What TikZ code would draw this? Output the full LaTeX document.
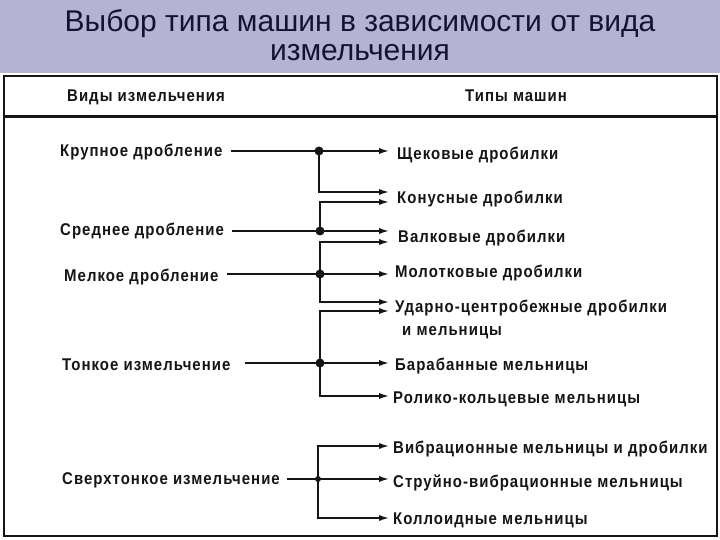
\documentclass[tikz,border=0pt]{standalone}
\usepackage{fontspec}
\setmainfont{Liberation Sans}
\newfontfamily\lblfont{Liberation Sans}[FakeStretch=0.88, LetterSpace=6]
\usetikzlibrary{arrows.meta}
\definecolor{bandbg}{HTML}{B4B4D2}
\definecolor{titlecol}{HTML}{141432}
\definecolor{ink}{HTML}{151515}
\begin{document}
\begin{tikzpicture}[x=1pt,y=-1pt,
  titletxt/.style={anchor=base, inner sep=0pt, text=titlecol, font=\fontsize{30}{34}\selectfont},
  lbl/.style={anchor=base west, inner sep=0pt, text=ink, font=\lblfont\fontsize{17}{19}\selectfont\bfseries},
  feed/.style={draw=ink, line width=2.2pt},
  trunk/.style={draw=ink, line width=2.8pt},
  arr/.style={draw=ink, line width=2.6pt, -{Latex[length=12pt,width=6pt]}},
  dotc/.style={circle, fill=ink, inner sep=0pt, minimum size=9pt},
  frame/.style={draw=ink, line width=2.5pt}
]
\useasboundingbox (0,0) rectangle (720,540);
\fill[bandbg] (0,0) rectangle (720,73);
\fill[white] (0,73) rectangle (720,540);
% title
\node[titletxt] (t1) at (360,32) {Выбор типа машин в зависимости от вида};
\node[titletxt] (t2) at (360,61) {измельчения};
% frame
\draw[frame] (4,76) rectangle (717,536);
\draw[frame, line width=3pt] (4,117) -- (717,117);
% headers
\node[lbl] (h1) at (67,102) {Виды измельчения};
\node[lbl] (h2) at (465,102) {Типы машин};
% left labels
\node[lbl] (k1) at (60,157) {Крупное дробление};
\node[lbl] (k2) at (60,236) {Среднее дробление};
\node[lbl] (k3) at (64,281) {Мелкое дробление};
\node[lbl] (k4) at (62,370) {Тонкое измельчение};
\node[lbl] (k5) at (62,484) {Сверхтонкое измельчение};
% right labels
\node[lbl] (m1) at (397,160) {Щековые дробилки};
\node[lbl] (m2) at (397,204) {Конусные дробилки};
\node[lbl] (m3) at (398,242) {Валковые дробилки};
\node[lbl] (m4) at (395,277) {Молотковые дробилки};
\node[lbl] (m5) at (395,312) {Ударно-центробежные дробилки};
\node[lbl] (m5b) at (402,335) {и мельницы};
\node[lbl] (m6) at (395,370) {Барабанные мельницы};
\node[lbl] (m7) at (393,403) {Ролико-кольцевые мельницы};
\node[lbl] (m8) at (393,453) {Вибрационные мельницы и дробилки};
\node[lbl] (m9) at (393,487) {Струйно-вибрационные мельницы};
\node[lbl] (m10) at (393,524) {Коллоидные мельницы};
% junctions and branch corners
\coordinate (j1) at (319,151);
\coordinate (c1b) at (319,192);
\coordinate (c2a) at (320,202);
\coordinate (j2) at (320,231);
\coordinate (c3a) at (320,242);
\coordinate (j3) at (320,274);
\coordinate (c3b) at (320,302);
\coordinate (c4a) at (320,311);
\coordinate (j4) at (320,363);
\coordinate (c4b) at (320,396);
\coordinate (c5a) at (318,446);
\coordinate (j5) at (318,479);
\coordinate (c5b) at (318,518);
\coordinate (tipx) at (391,0);
% feeds
\draw[feed] (k1.east |- j1) ++(8,0) -- (j1);
\draw[feed] (k2.east |- j2) ++(8,0) -- (j2);
\draw[feed] (k3.east |- j3) ++(8,0) -- (j3);
\draw[feed] (k4.east |- j4) ++(14,0) -- (j4);
\draw[feed] (k5.east |- j5) ++(7,0) -- (j5);
% trunks
\draw[trunk] (j1) -- (c1b);
\draw[trunk] (c2a) -- (j2);
\draw[trunk] (c3a) -- (c3b);
\draw[trunk] (c4a) -- (c4b);
\draw[trunk] (c5a) -- (c5b);
% arrows
\draw[arr] (j1) -- (tipx |- j1);
\draw[arr] ([xshift=-1.4pt]c1b) -- (tipx |- c1b);
\draw[arr] ([xshift=-1.4pt]c2a) -- (tipx |- c2a);
\draw[arr] (j2) -- (tipx |- j2);
\draw[arr] ([xshift=-1.4pt]c3a) -- (tipx |- c3a);
\draw[arr] (j3) -- (tipx |- j3);
\draw[arr] ([xshift=-1.4pt]c3b) -- (tipx |- c3b);
\draw[arr] ([xshift=-1.4pt]c4a) -- (tipx |- c4a);
\draw[arr] (j4) -- (tipx |- j4);
\draw[arr] ([xshift=-1.4pt]c4b) -- (tipx |- c4b);
\draw[arr] ([xshift=-1.4pt]c5a) -- (tipx |- c5a);
\draw[arr] (j5) -- (tipx |- j5);
\draw[arr] ([xshift=-1.4pt]c5b) -- (tipx |- c5b);
% dots
\node[dotc] (d1) at (j1) {};
\node[dotc] (d2) at (j2) {};
\node[dotc] (d3) at (j3) {};
\node[dotc] (d4) at (j4) {};
\node[dotc, minimum size=6pt] (d5) at (j5) {};
\end{tikzpicture}
\end{document}
